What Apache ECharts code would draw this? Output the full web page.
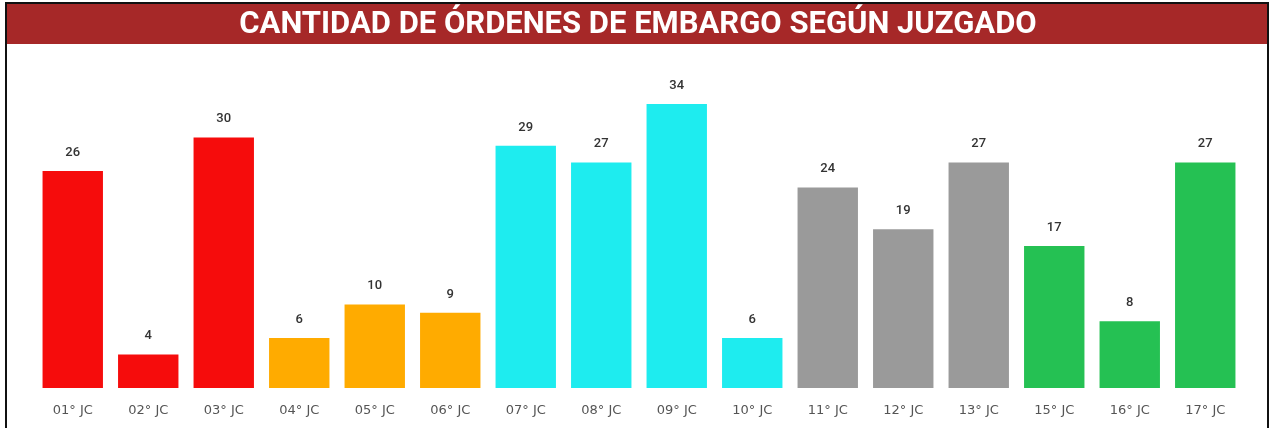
<!DOCTYPE html>
<html>
<head>
<meta charset="utf-8">
<script src="https://cdn.jsdelivr.net/npm/echarts@6/dist/echarts.min.js"></script>
<style>
  html, body { margin: 0; padding: 0; background: #fff; }
  #chart { width: 1273px; height: 428px; }
</style>
</head>
<body>
<div id="chart"></div>
<script>
// juzgados y cantidad de órdenes
const categories = ['01° JC', '02° JC', '03° JC', '04° JC', '05° JC', '06° JC', '07° JC', '08° JC',
  '09° JC', '10° JC', '11° JC', '12° JC', '13° JC', '15° JC', '16° JC', '17° JC']
const values = [26, 4, 30, 6, 10, 9, 29, 27, 34, 6, 24, 19, 27, 17, 8, 27]
// grupo de color de cada barra
const groups = ['r', 'r', 'r', 'o', 'o', 'o', 'c', 'c', 'c', 'c', 'g', 'g', 'g', 'v', 'v', 'v']

const groupColor = {
  r: '#f60c0c',
  o: '#ffab00',
  c: '#1eecef',
  g: '#9a9a9a',
  v: '#25c153'
}

const chart = echarts.init(document.getElementById('chart'))
chart.setOption({
  animation: false,
  graphic: [
    {
      type: 'rect',
      shape: { x: 6, y: 3, width: 1262, height: 440 },
      style: { fill: 'none', stroke: '#111', lineWidth: 2 },
      silent: true
    },
    {
      type: 'rect',
      shape: { x: 7, y: 4, width: 1260, height: 40 },
      style: { fill: '#a62828' },
      silent: true
    },
    {
      type: 'text',
      x: 638,
      y: 25,
      style: {
        text: 'CANTIDAD DE ÓRDENES DE EMBARGO SEGÚN JUZGADO',
        fill: '#fff',
        font: 'bold 31px Roboto',
        align: 'center',
        verticalAlign: 'middle'
      }
    }
  ],
  grid: {
    left: 35,
    right: 30,
    top: 54,
    bottom: 40
  },
  xAxis: {
    type: 'category',
    data: categories,
    axisLine: { show: false },
    axisTick: { show: false },
    axisLabel: {
      color: '#555',
      fontSize: 13,
      fontFamily: 'DejaVu Sans',
      margin: 16
    }
  },
  yAxis: {
    type: 'value',
    min: 0,
    max: 40,
    show: false,
    splitLine: { show: false }
  },
  series: [{
    type: 'bar',
    barCategoryGap: '20%',
    data: values.map((v, i) => ({
      value: v,
      itemStyle: { color: groupColor[groups[i]] }
    })),
    label: {
      show: true,
      position: 'top',
      distance: 12,
      color: '#333',
      fontSize: 13,
      fontFamily: 'Roboto',
      fontWeight: 500
    }
  }]
})
</script>
</body>
</html>
